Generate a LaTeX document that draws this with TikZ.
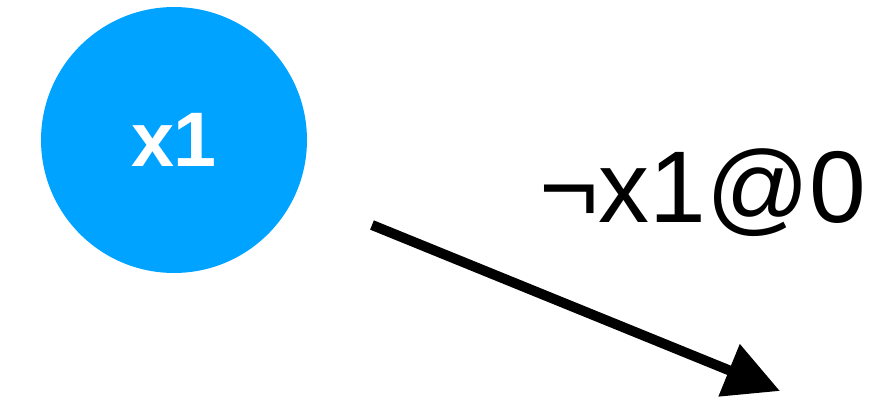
\documentclass[tikz,border=0pt]{standalone}
\usepackage{fontspec}
\setmainfont{Liberation Sans}
\usepackage{tikz}
\usetikzlibrary{arrows.meta,positioning}
\definecolor{VarBlue}{HTML}{00A3FF}

\begin{document}
\begin{tikzpicture}[
    x=0.02cm, y=-0.02cm,
    var/.style={circle, fill=VarBlue, text=white, inner sep=0pt, minimum size=5.32cm, font=\fontsize{44}{48}\selectfont\bfseries},
    lbl/.style={anchor=base, inner sep=0pt, font=\fontsize{58}{62}\selectfont},
    arrow/.style={-{Triangle[length=1.1cm, width=1.08cm]}, line width=0.2cm, draw=black}
]
\useasboundingbox (0,0) rectangle (881,399);
\node[var] (x1) at (174,140) {x1};
\node[lbl] (lit) at (703,222) {¬x1@0};

\coordinate (from) at (372,225);
\coordinate (to) at (780,391);
\draw[arrow] (from) -- (to);
\end{tikzpicture}
\end{document}
